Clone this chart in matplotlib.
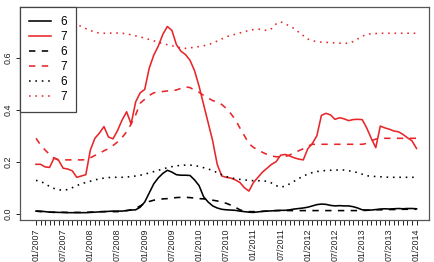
import matplotlib
matplotlib.use("Agg")
import matplotlib.pyplot as plt
import numpy as np

plt.rcParams['font.family'] = ['Liberation Sans', 'DejaVu Sans']

# monthly points, 01/2007 .. 01/2014
months = np.arange(85)
tick_labels = ["01/2007", "07/2007", "01/2008", "07/2008", "01/2009", "07/2009",
               "01/2010", "07/2010", "01/2011", "07/2011", "01/2012", "07/2012",
               "01/2013", "07/2013", "01/2014"]

black_solid = [0.010, 0.010, 0.008, 0.006, 0.006, 0.005, 0.005, 0.004, 0.004, 0.004,
               0.004, 0.004, 0.005, 0.006, 0.007, 0.008, 0.009, 0.010, 0.010, 0.010,
               0.012, 0.014, 0.015, 0.025, 0.045, 0.080, 0.115, 0.138, 0.155, 0.167,
               0.160, 0.150, 0.148, 0.148, 0.147, 0.130, 0.108, 0.065, 0.045, 0.030,
               0.022, 0.017, 0.015, 0.014, 0.013, 0.010, 0.008, 0.006, 0.005, 0.007,
               0.009, 0.010, 0.011, 0.012, 0.013, 0.013, 0.015, 0.018, 0.020, 0.022,
               0.025, 0.030, 0.035, 0.037, 0.036, 0.032, 0.030, 0.031, 0.030, 0.030,
               0.027, 0.022, 0.015, 0.014, 0.014, 0.016, 0.018, 0.019, 0.018, 0.019,
               0.020, 0.019, 0.020, 0.020, 0.019]

red_solid = [0.190, 0.190, 0.180, 0.178, 0.215, 0.205, 0.175, 0.172, 0.165, 0.140,
             0.145, 0.150, 0.245, 0.290, 0.310, 0.335, 0.295, 0.288, 0.320, 0.360,
             0.392, 0.345, 0.430, 0.465, 0.478, 0.560, 0.610, 0.645, 0.690, 0.720,
             0.705, 0.650, 0.625, 0.612, 0.590, 0.550, 0.490, 0.420, 0.350, 0.280,
             0.190, 0.145, 0.140, 0.137, 0.130, 0.120, 0.100, 0.087, 0.120, 0.140,
             0.160, 0.175, 0.190, 0.200, 0.225, 0.228, 0.222, 0.215, 0.210, 0.207,
             0.250, 0.270, 0.300, 0.378, 0.386, 0.380, 0.363, 0.369, 0.365, 0.358,
             0.362, 0.363, 0.362, 0.330, 0.290, 0.254, 0.337, 0.330, 0.325, 0.318,
             0.315, 0.305, 0.292, 0.280, 0.251]

black_dashed = [0.010, 0.008, 0.007, 0.006, 0.005, 0.005, 0.005, 0.005, 0.005, 0.005,
                0.005, 0.005, 0.006, 0.007, 0.008, 0.008, 0.008, 0.008, 0.008, 0.010,
                0.012, 0.015, 0.020, 0.030, 0.040, 0.047, 0.052, 0.055, 0.057, 0.058,
                0.060, 0.062, 0.063, 0.063, 0.062, 0.060, 0.058, 0.057, 0.055, 0.052,
                0.049, 0.045, 0.040, 0.033, 0.025, 0.015, 0.010, 0.008, 0.008, 0.008,
                0.009, 0.010, 0.011, 0.012, 0.012, 0.012, 0.012, 0.012, 0.012, 0.012,
                0.012, 0.012, 0.012, 0.012, 0.012, 0.012, 0.012, 0.012, 0.012, 0.012,
                0.012, 0.012, 0.012, 0.013, 0.014, 0.015, 0.015, 0.015, 0.016, 0.016,
                0.016, 0.017, 0.017, 0.017, 0.017]

red_dashed = [0.290, 0.265, 0.245, 0.228, 0.213, 0.208, 0.207, 0.207, 0.207, 0.207,
              0.207, 0.208, 0.215, 0.224, 0.232, 0.242, 0.250, 0.262, 0.276, 0.293,
              0.315, 0.345, 0.380, 0.425, 0.440, 0.455, 0.465, 0.468, 0.470, 0.472,
              0.472, 0.476, 0.482, 0.488, 0.485, 0.475, 0.467, 0.455, 0.445, 0.435,
              0.430, 0.420, 0.405, 0.385, 0.362, 0.330, 0.300, 0.270, 0.255, 0.245,
              0.236, 0.228, 0.222, 0.219, 0.218, 0.220, 0.226, 0.234, 0.242, 0.250,
              0.260, 0.267, 0.267, 0.267, 0.267, 0.267, 0.267, 0.267, 0.267, 0.267,
              0.267, 0.267, 0.267, 0.270, 0.280, 0.287, 0.290, 0.290, 0.290, 0.290,
              0.290, 0.290, 0.290, 0.290, 0.290]

black_dotted = [0.128, 0.125, 0.115, 0.105, 0.097, 0.092, 0.090, 0.093, 0.100, 0.108,
                0.115, 0.120, 0.125, 0.130, 0.134, 0.137, 0.139, 0.140, 0.140, 0.140,
                0.141, 0.143, 0.145, 0.148, 0.152, 0.157, 0.162, 0.167, 0.172, 0.177,
                0.181, 0.184, 0.186, 0.187, 0.187, 0.185, 0.182, 0.177, 0.172, 0.166,
                0.158, 0.150, 0.143, 0.138, 0.135, 0.132, 0.130, 0.128, 0.127, 0.127,
                0.126, 0.125, 0.118, 0.108, 0.102, 0.106, 0.115, 0.125, 0.135, 0.145,
                0.152, 0.158, 0.162, 0.165, 0.166, 0.167, 0.168, 0.168, 0.168, 0.165,
                0.162, 0.158, 0.152, 0.146, 0.144, 0.143, 0.142, 0.141, 0.140, 0.140,
                0.140, 0.140, 0.140, 0.140, 0.140]

red_dotted = [0.760, 0.755, 0.750, 0.748, 0.745, 0.742, 0.740, 0.738, 0.736, 0.728,
              0.720, 0.712, 0.705, 0.698, 0.695, 0.694, 0.694, 0.695, 0.695, 0.694,
              0.692, 0.688, 0.684, 0.680, 0.675, 0.670, 0.665, 0.660, 0.654, 0.650,
              0.646, 0.642, 0.638, 0.636, 0.638, 0.640, 0.643, 0.646, 0.650, 0.656,
              0.664, 0.672, 0.680, 0.686, 0.690, 0.695, 0.700, 0.705, 0.708, 0.710,
              0.708, 0.704, 0.712, 0.730, 0.738, 0.730, 0.722, 0.712, 0.698, 0.685,
              0.672, 0.665, 0.662, 0.660, 0.659, 0.658, 0.657, 0.656, 0.655, 0.656,
              0.662, 0.672, 0.682, 0.690, 0.692, 0.693, 0.694, 0.694, 0.694, 0.694,
              0.694, 0.694, 0.694, 0.694, 0.694]

RED = '#e8262a'
lw = 1.15

fig = plt.figure(figsize=(4.34, 2.62), dpi=100)
ax = fig.add_axes([20/434, 1 - 220/262, 409/434, 213/262])

ax.plot(months, black_solid, color='black', lw=lw, label='6')
ax.plot(months, red_solid, color=RED, lw=lw, label='7')
ax.plot(months, black_dashed, color='black', lw=lw, ls=(0, (4, 4)), label='6')
ax.plot(months, red_dashed, color=RED, lw=lw, ls=(0, (4, 4)), label='7')
ax.plot(months, black_dotted, color='black', lw=lw, ls=(0, (1, 3)), label='6')
ax.plot(months, red_dotted, color=RED, lw=lw, ls=(0, (1, 3)), label='7')

ax.set_xlim(-3.53, 86.75)
ax.set_ylim(-0.0242, 0.795)

ax.set_xticks(months[::6])
ax.set_xticklabels(tick_labels, rotation=90, fontsize=6.4, color='#222222')
ax.set_xticks(months, minor=True)
ax.tick_params(axis='x', which='both', length=3.5, width=0.6, pad=2.5)
ax.set_yticks([0.0, 0.2, 0.4, 0.6])
ax.set_yticklabels(["0.0", "0.2", "0.4", "0.6"], rotation=90, va='center',
                   fontsize=6.4, color='#222222')
ax.tick_params(axis='y', length=3, width=0.6, pad=2)

for s in ax.spines.values():
    s.set_color('#555555')
    s.set_linewidth(0.9)

leg = ax.legend(loc='upper left', bbox_to_anchor=(0, 1), borderaxespad=0,
                fancybox=False, framealpha=1, edgecolor='#444444', fontsize=8.5,
                handlelength=1.9, handletextpad=0.8, labelspacing=0.26,
                borderpad=0.75)
leg.get_frame().set_linewidth(0.9)

fig.savefig("out.png", dpi=100)
